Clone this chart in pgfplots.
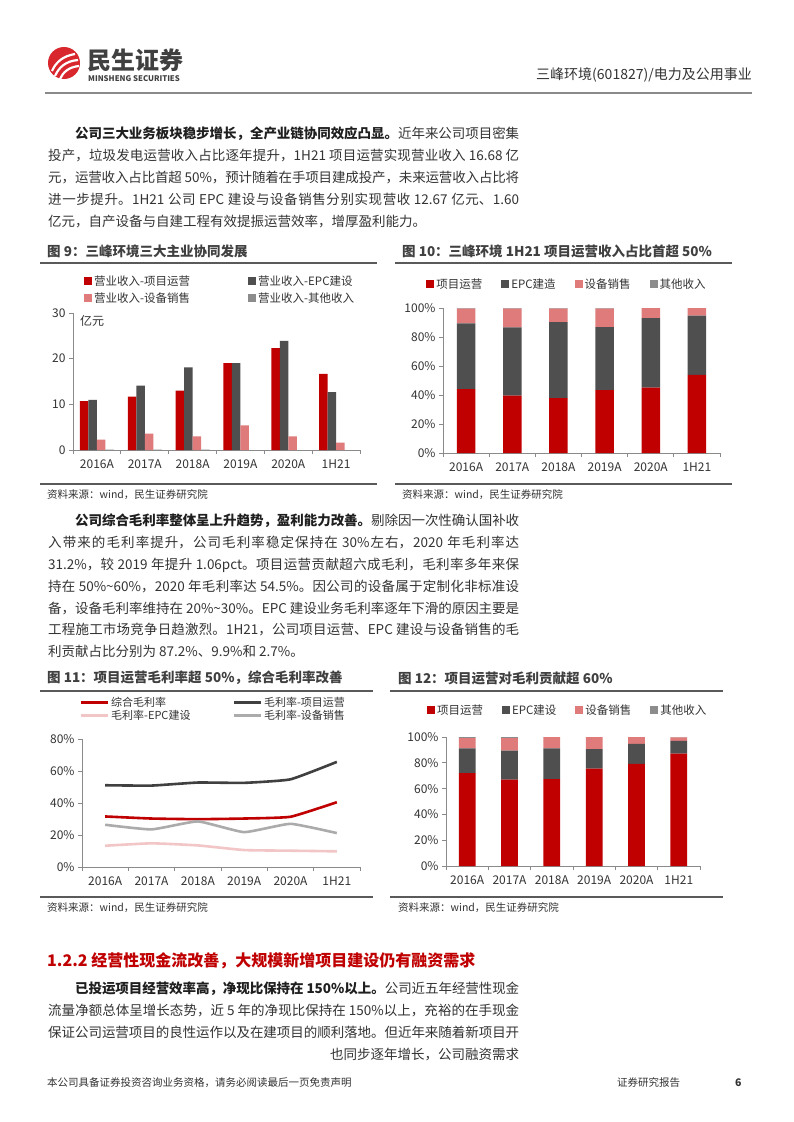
\documentclass[border=0pt]{standalone}
\usepackage{fontspec}
\setmainfont{Noto Sans CJK SC}
\usepackage{pgfplots}
\pgfplotsset{compat=1.18}

\definecolor{cRed}{HTML}{C00000}
\definecolor{cDark}{HTML}{4F4F4F}
\definecolor{cPink}{HTML}{DF7B7B}
\definecolor{cOther}{HTML}{8C8C8C}
\definecolor{lDark}{HTML}{404040}
\definecolor{lPink}{HTML}{F2C6C6}
\definecolor{lGray}{HTML}{ABABAB}
\definecolor{txt}{HTML}{333333}
\definecolor{txtb}{HTML}{1F1F1F}
\definecolor{ttl}{HTML}{404040}
\definecolor{rulec}{HTML}{5A5A5A}
\definecolor{axisc}{HTML}{8A8A8A}
\definecolor{logoRed}{HTML}{D8272D}

\XeTeXlinebreaklocale "zh"
\XeTeXlinebreakskip=0pt plus 1.5pt minus 0.4pt

\newcommand\bodyfont{\fontsize{13.5}{21.8}\selectfont\color{txt}}
\newcommand\lead[1]{\textbf{\color{txtb}#1}}

\pgfplotsset{
  base/.style={
    scale only axis,
    axis x line*=bottom, axis y line*=left,
    axis line style={axisc, line width=1pt},
    tick style={axisc, line width=0.8pt},
    tick align=outside,
    major tick length=4pt,
    xmin=-0.5, xmax=5.5,
    xtick={-0.5,0.5,...,5.5}, xticklabels={},
    extra x ticks={0,1,2,3,4,5},
    extra x tick labels={2016A,2017A,2018A,2019A,2020A,1H21},
    extra x tick style={major tick length=0pt},
    ticklabel style={font=\fontsize{12}{12}\selectfont, text=txt},
    xticklabel style={yshift=-6pt},
    legend cell align=left,
  },
  sqlegend/.style={
    every axis plot post/.append style={
      legend image code/.code={\fill[##1,draw=none] (0pt,-4pt) rectangle (8pt,4pt);}},
  },
  lnlegend/.style={
    legend image code/.code={\draw[##1] (0pt,0pt) -- (27pt,0pt);},
  },
}

\begin{document}
\begin{tikzpicture}
\fill[white] (0pt,0pt) rectangle (793pt,-1122pt);
\useasboundingbox (0pt,0pt) rectangle (793pt,-1122pt);

\begin{scope}[x=1pt,y=-1pt]
% header
\fill[logoRed] (64,63) circle (16);
\draw[white,line width=2.2] (52,71) .. controls (56,62) and (63,56) .. (75,54);
\draw[white,line width=2.2] (55,76) .. controls (59,67) and (66,61) .. (78,60);
\draw[white,line width=2.2] (60,79) .. controls (63,72) and (69,67) .. (79,66);
\node[anchor=west,inner sep=0,text=lDark,font=\fontsize{24}{24}\selectfont\bfseries] at (87,60) {民生证券};
\node[anchor=west,inner sep=0,text=lDark,font=\fontsize{7.8}{8}\selectfont\bfseries] at (88,79) {MINSHENG SECURITIES};
\node[anchor=east,inner sep=0,text=txt,font=\fontsize{14}{14}\selectfont] at (752,75) {三峰环境(601827)/电力及公用事业};
\draw[axisc,line width=2] (45,93) -- (752,93);

% paragraph 1
\node[anchor=north west,inner sep=0,text width=471pt,align=justify,font=\bodyfont] at (48,127) {%
\hspace*{27pt}\lead{公司三大业务板块稳步增长，全产业链协同效应凸显。}近年来公司项目密集\linebreak
投产，垃圾发电运营收入占比逐年提升，1H21 项目运营实现营业收入 16.68 亿\linebreak
元，运营收入占比首超 50\%，预计随着在手项目建成投产，未来运营收入占比将\linebreak
进一步提升。1H21 公司 EPC 建设与设备销售分别实现营收 12.67 亿元、1.60\linebreak
亿元，自产设备与自建工程有效提振运营效率，增厚盈利能力。};

% figure titles row 1
\node[anchor=west,inner sep=0,text=ttl,font=\fontsize{13.5}{14}\selectfont\bfseries] at (47,251) {图 9：三峰环境三大主业协同发展};
\node[anchor=west,inner sep=0,text=ttl,font=\fontsize{13.5}{14}\selectfont\bfseries] at (402,251) {图 10：三峰环境 1H21 项目运营收入占比首超 50\%};
\draw[rulec,line width=2] (40,263) -- (377,263);
\draw[rulec,line width=2] (395,263) -- (732,263);
\draw[rulec,line width=2] (40,484) -- (377,484);
\draw[rulec,line width=2] (395,484) -- (732,484);
\node[anchor=west,inner sep=0,text=txt,font=\fontsize{10.5}{11}\selectfont] at (47,495) {资料来源：wind，民生证券研究院};
\node[anchor=west,inner sep=0,text=txt,font=\fontsize{10.5}{11}\selectfont] at (402,495) {资料来源：wind，民生证券研究院};
\node[anchor=west,inner sep=0,text=txt,font=\fontsize{12}{12}\selectfont] at (80,321) {亿元};

% paragraph 2
\node[anchor=north west,inner sep=0,text width=471pt,align=justify,font=\bodyfont] at (48,514) {%
\hspace*{27pt}\lead{公司综合毛利率整体呈上升趋势，盈利能力改善。}剔除因一次性确认国补收\linebreak
入带来的毛利率提升，公司毛利率稳定保持在 30\%左右，2020 年毛利率达\linebreak
31.2\%，较 2019 年提升 1.06pct。项目运营贡献超六成毛利，毛利率多年来保\linebreak
持在 50\%\textasciitilde60\%，2020 年毛利率达 54.5\%。因公司的设备属于定制化非标准设\linebreak
备，设备毛利率维持在 20\%\textasciitilde30\%。EPC 建设业务毛利率逐年下滑的原因主要是\linebreak
工程施工市场竞争日趋激烈。1H21，公司项目运营、EPC 建设与设备销售的毛\linebreak
利贡献占比分别为 87.2\%、9.9\%和 2.7\%。};

% figure titles row 2
\node[anchor=west,inner sep=0,text=ttl,font=\fontsize{13.5}{14}\selectfont\bfseries] at (47,678) {图 11：项目运营毛利率超 50\%，综合毛利率改善};
\node[anchor=west,inner sep=0,text=ttl,font=\fontsize{13.5}{14}\selectfont\bfseries] at (398,678) {图 12：项目运营对毛利贡献超 60\%};
\draw[rulec,line width=2] (40,691) -- (373,691);
\draw[rulec,line width=2] (390,691) -- (723,691);
\draw[rulec,line width=2] (40,897) -- (373,897);
\draw[rulec,line width=2] (390,897) -- (723,897);
\node[anchor=west,inner sep=0,text=txt,font=\fontsize{10.5}{11}\selectfont] at (47,908) {资料来源：wind，民生证券研究院};
\node[anchor=west,inner sep=0,text=txt,font=\fontsize{10.5}{11}\selectfont] at (398,908) {资料来源：wind，民生证券研究院};

% section 1.2.2
\node[anchor=west,inner sep=0,text=cRed,font=\fontsize{16}{16}\selectfont\bfseries] at (47,961) {1.2.2 经营性现金流改善，大规模新增项目建设仍有融资需求};
\node[anchor=north west,inner sep=0,text width=471pt,align=justify,font=\bodyfont] at (48,982) {%
\hspace*{27pt}\lead{已投运项目经营效率高，净现比保持在 150\%以上。}公司近五年经营性现金\linebreak
流量净额总体呈增长态势，近 5 年的净现比保持在 150\%以上，充裕的在手现金\linebreak
保证公司运营项目的良性运作以及在建项目的顺利落地。但近年来随着新项目开\linebreak
\hspace*{0pt plus 1filll}也同步逐年增长，公司融资需求};

% footer
\node[anchor=west,inner sep=0,text=txt,font=\fontsize{10.5}{11}\selectfont] at (47,1083) {本公司具备证券投资咨询业务资格，请务必阅读最后一页免责声明};
\node[anchor=west,inner sep=0,text=txt,font=\fontsize{10.5}{11}\selectfont] at (617,1083) {证券研究报告};
\node[anchor=west,inner sep=0,text=txt,font=\fontsize{10.5}{11}\selectfont\bfseries] at (735,1083) {6};
\end{scope}

% ---------- Figure 9
\begin{axis}[base,
  at={(73pt,-450pt)}, anchor=south west, width=287pt, height=137pt,
  ymin=0, ymax=30, ytick={0,10,20,30}, yticklabels={0,10,20,30},
  ybar=0pt, bar width=8.5pt, sqlegend,
  legend columns=2,
  legend style={draw=none, fill=none, at={(0.028,1.305)}, anchor=north west,
    font=\fontsize{11.5}{12}\selectfont, text=txt, row sep=2pt,
    /tikz/every even column/.append style={column sep=56pt}},
]
\addplot[fill=cRed, draw=none] coordinates {(0,10.7) (1,11.7) (2,13.0) (3,19.0) (4,22.3) (5,16.68)};
\addplot[fill=cDark, draw=none] coordinates {(0,11.0) (1,14.1) (2,18.1) (3,19.0) (4,23.9) (5,12.67)};
\addplot[fill=cPink, draw=none] coordinates {(0,2.3) (1,3.6) (2,3.0) (3,5.4) (4,3.0) (5,1.60)};
\addplot[fill=cOther, draw=none] coordinates {(0,0.1) (1,0.1) (2,0.1) (3,0) (4,0) (5,0)};
\legend{营业收入-项目运营,营业收入-EPC建设,营业收入-设备销售,营业收入-其他收入}
\end{axis}

% ---------- Figure 10
\begin{axis}[base,
  at={(443pt,-453pt)}, anchor=south west, width=277pt, height=145pt,
  ymin=0, ymax=100, ytick={0,20,40,60,80,100},
  yticklabels={0\%,20\%,40\%,60\%,80\%,100\%},
  ybar stacked, bar width=18.5pt, sqlegend,
  legend columns=4,
  legend style={draw=none, fill=none, at={(-0.072,1.23)}, anchor=north west,
    font=\fontsize{11.5}{12}\selectfont, text=txt,
    /tikz/every even column/.append style={column sep=17pt}},
]
\addplot[fill=cRed, draw=none] coordinates {(0,44.1) (1,39.5) (2,37.9) (3,43.4) (4,45.1) (5,53.9)};
\addplot[fill=cDark, draw=none] coordinates {(0,45.3) (1,47.2) (2,52.4) (3,43.5) (4,48.0) (5,40.9)};
\addplot[fill=cPink, draw=none] coordinates {(0,10.1) (1,12.8) (2,9.2) (3,12.6) (4,6.9) (5,5.2)};
\addplot[fill=cOther, draw=none] coordinates {(0,0.5) (1,0.5) (2,0.5) (3,0.5) (4,0) (5,0)};
\legend{项目运营,EPC建造,设备销售,其他收入}
\end{axis}

% ---------- Figure 11
\begin{axis}[base, lnlegend,
  at={(82pt,-867pt)}, anchor=south west, width=278pt, height=128pt,
  ymin=0, ymax=80, ytick={0,20,40,60,80},
  yticklabels={0\%,20\%,40\%,60\%,80\%},
  legend columns=2,
  legend style={draw=none, fill=none, at={(-0.02,1.36)}, anchor=north west,
    font=\fontsize{11}{11}\selectfont, text=txt, row sep=-2pt,
    /tikz/every even column/.append style={column sep=40pt}},
]
\addplot[cRed, line width=2.6pt, smooth, tension=0.25] coordinates {(0,31.6) (1,30.3) (2,29.9) (3,30.3) (4,31.4) (5,40.5)};
\addplot[lDark, line width=2.6pt, smooth, tension=0.25] coordinates {(0,51.1) (1,50.9) (2,52.8) (3,52.6) (4,54.8) (5,65.7)};
\addplot[lPink, line width=2.6pt, smooth, tension=0.25] coordinates {(0,13.3) (1,14.8) (2,13.5) (3,10.6) (4,10.2) (5,9.8)};
\addplot[lGray, line width=2.6pt, smooth, tension=0.25] coordinates {(0,26.4) (1,23.5) (2,28.5) (3,21.8) (4,27.0) (5,21.2)};
\legend{综合毛利率,毛利率-项目运营,毛利率-EPC建设,毛利率-设备销售}
\end{axis}

% ---------- Figure 12
\begin{axis}[base,
  at={(446pt,-866pt)}, anchor=south west, width=254pt, height=129pt,
  ymin=0, ymax=100, ytick={0,20,40,60,80,100},
  yticklabels={0\%,20\%,40\%,60\%,80\%,100\%},
  ybar stacked, bar width=16.7pt, sqlegend,
  legend columns=4,
  legend style={draw=none, fill=none, at={(-0.087,1.285)}, anchor=north west,
    font=\fontsize{11.5}{12}\selectfont, text=txt,
    /tikz/every even column/.append style={column sep=17pt}},
]
\addplot[fill=cRed, draw=none] coordinates {(0,72.1) (1,66.9) (2,67.4) (3,75.5) (4,79.1) (5,87.2)};
\addplot[fill=cDark, draw=none] coordinates {(0,19.1) (1,22.5) (2,23.8) (3,15.2) (4,15.5) (5,9.9)};
\addplot[fill=cPink, draw=none] coordinates {(0,8.0) (1,9.8) (2,8.8) (3,9.3) (4,5.4) (5,2.7)};
\addplot[fill=cOther, draw=none] coordinates {(0,0.8) (1,0.8) (2,0) (3,0) (4,0) (5,0.2)};
\legend{项目运营,EPC建设,设备销售,其他收入}
\end{axis}
\end{tikzpicture}
\end{document}
